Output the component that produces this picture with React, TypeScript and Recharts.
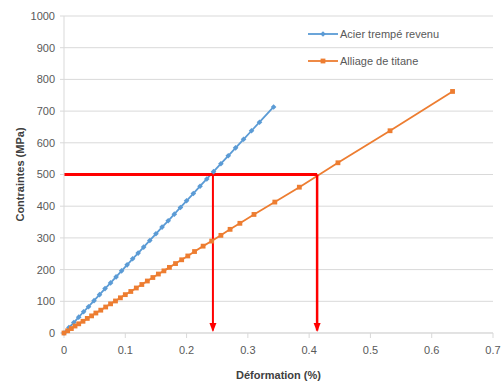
import {
  LineChart,
  Line,
  XAxis,
  YAxis,
  CartesianGrid,
  Legend,
  ReferenceLine,
  ReferenceDot,
} from 'recharts'

// Déformation (%) / contrainte (MPa)
const acierStrain = [
  0, 0.008, 0.016, 0.024, 0.032, 0.04, 0.049, 0.058, 0.067, 0.076, 0.085, 0.094,
  0.103, 0.112, 0.121, 0.13, 0.14, 0.15, 0.16, 0.17, 0.18, 0.19, 0.2, 0.211,
  0.222, 0.233, 0.244, 0.256, 0.268, 0.28, 0.293, 0.306, 0.319, 0.342,
]
const acierStress = [
  0, 17, 33, 50, 67, 83, 102, 121, 140, 158, 177, 196, 215, 234, 252, 271, 292,
  313, 334, 354, 375, 396, 417, 440, 463, 486, 509, 534, 559, 584, 611, 638, 665,
  713,
]
const titaneStrain = [
  0, 0.006, 0.012, 0.018, 0.024, 0.031, 0.038, 0.045, 0.052, 0.06, 0.068, 0.076,
  0.084, 0.092, 0.1, 0.109, 0.118, 0.127, 0.136, 0.145, 0.154, 0.163, 0.172,
  0.182, 0.192, 0.202, 0.213, 0.227, 0.241, 0.256, 0.271, 0.287, 0.31, 0.344,
  0.384, 0.447, 0.532, 0.634,
]
const titaneStress = [
  0, 7, 14, 22, 29, 37, 46, 54, 63, 72, 82, 92, 101, 111, 121, 131, 142, 153, 164,
  175, 186, 196, 207, 219, 231, 243, 257, 274, 290, 308, 327, 346, 374, 413, 460,
  537, 638, 762,
]
const xTicks = [0, 0.1, 0.2, 0.3, 0.4, 0.5, 0.6, 0.7]
const yTicks = [0, 100, 200, 300, 400, 500, 600, 700, 800, 900, 1000]
const seuil = 500
const acierAt500 = 0.243
const titaneAt500 = 0.413

const BLUE = '#5b9bd5'
const ORANGE = '#ed7d31'
const RED = '#ff0000'
const FONT = '"Liberation Sans", Arial, sans-serif'

const acierData = acierStrain.map((x, i) => ({ x, y: acierStress[i] }))
const titaneData = titaneStrain.map((x, i) => ({ x, y: titaneStress[i] }))

const Diamond = (props: any) => {
  const { cx, cy } = props
  if (cx == null || cy == null) return null
  const s = 2.8
  return (
    <path
      d={`M${cx},${cy - s}L${cx + s},${cy}L${cx},${cy + s}L${cx - s},${cy}Z`}
      fill={BLUE}
    />
  )
}

const Square = (props: any) => {
  const { cx, cy } = props
  if (cx == null || cy == null) return null
  return <rect x={cx - 2.4} y={cy - 2.4} width={4.8} height={4.8} fill={ORANGE} />
}

const Arrow = (props: any) => {
  const { cx, cy } = props
  if (cx == null || cy == null) return null
  return (
    <path
      d={`M${cx - 3.5},${cy - 10}L${cx + 3.5},${cy - 10}L${cx},${cy - 1}Z`}
      fill={RED}
    />
  )
}

const legendRows = [
  { name: 'Acier trempé revenu', color: BLUE, marker: 'diamond' },
  { name: 'Alliage de titane', color: ORANGE, marker: 'square' },
]

const LegendContent = () => (
  <div style={{ fontFamily: FONT, fontSize: 11, color: '#595959' }}>
    {legendRows.map((r) => (
      <div
        key={r.name}
        style={{ display: 'flex', alignItems: 'center', height: 27, whiteSpace: 'nowrap' }}
      >
        <svg width={30} height={8} style={{ marginRight: 2 }}>
          <line x1={0} y1={4} x2={30} y2={4} stroke={r.color} strokeWidth={1.8} />
          {r.marker === 'diamond' ? (
            <path d="M15,1.2L17.8,4L15,6.8L12.2,4Z" fill={r.color} />
          ) : (
            <rect x={12.6} y={1.6} width={4.8} height={4.8} fill={r.color} />
          )}
        </svg>
        <span>{r.name}</span>
      </div>
    ))}
  </div>
)

export default function App() {
  return (
    <div style={{ position: 'absolute', left: 0, top: 0, background: '#fff' }}>
      <LineChart
        width={502}
        height={385}
        margin={{ top: 16, right: 9, bottom: 0, left: 0 }}
      >
        <CartesianGrid vertical={false} stroke="#d9d9d9" strokeWidth={1} />
        <XAxis
          type="number"
          dataKey="x"
          domain={[0, 0.7]}
          ticks={xTicks}
          tickFormatter={(v: number) => String(v)}
          height={52}
          stroke="#d9d9d9"
          tickSize={5}
          tick={{ fill: '#595959', fontSize: 11, fontFamily: FONT, dy: 6 }}
          label={{
            value: 'Déformation (%)',
            position: 'insideBottom',
            offset: 6,
            fill: '#404040',
            fontSize: 11,
            fontWeight: 'bold',
            fontFamily: FONT,
          }}
        />
        <YAxis
          type="number"
          dataKey="y"
          domain={[0, 1000]}
          ticks={yTicks}
          width={64}
          stroke="#d9d9d9"
          tickSize={4}
          tick={{ fill: '#595959', fontSize: 11, fontFamily: FONT, dx: -3 }}
          label={{
            value: 'Contraintes (MPa)',
            angle: -90,
            position: 'insideLeft',
            offset: 20,
            style: { textAnchor: 'middle' },
            fill: '#404040',
            fontSize: 11,
            fontWeight: 'bold',
            fontFamily: FONT,
          }}
        />
        <Legend
          layout="horizontal"
          verticalAlign="middle"
          align="center"
          content={<LegendContent />}
          wrapperStyle={{ position: 'absolute', left: 308, top: 20, width: 170 }}
        />
        <Line
          data={acierData}
          dataKey="y"
          name="Acier trempé revenu"
          stroke={BLUE}
          strokeWidth={1.8}
          dot={<Diamond />}
          activeDot={false}
          isAnimationActive={false}
        />
        <Line
          data={titaneData}
          dataKey="y"
          name="Alliage de titane"
          stroke={ORANGE}
          strokeWidth={1.8}
          dot={<Square />}
          activeDot={false}
          isAnimationActive={false}
        />
        <ReferenceLine
          segment={[
            { x: 0, y: seuil },
            { x: titaneAt500, y: seuil },
          ]}
          stroke={RED}
          strokeWidth={3}
        />
        <ReferenceLine
          segment={[
            { x: acierAt500, y: seuil },
            { x: acierAt500, y: 8 },
          ]}
          stroke={RED}
          strokeWidth={2}
        />
        <ReferenceLine
          segment={[
            { x: titaneAt500, y: seuil },
            { x: titaneAt500, y: 8 },
          ]}
          stroke={RED}
          strokeWidth={2.5}
        />
        <ReferenceDot x={acierAt500} y={0} r={4} shape={<Arrow />} />
        <ReferenceDot x={titaneAt500} y={0} r={4} shape={<Arrow />} />
      </LineChart>
    </div>
  )
}
